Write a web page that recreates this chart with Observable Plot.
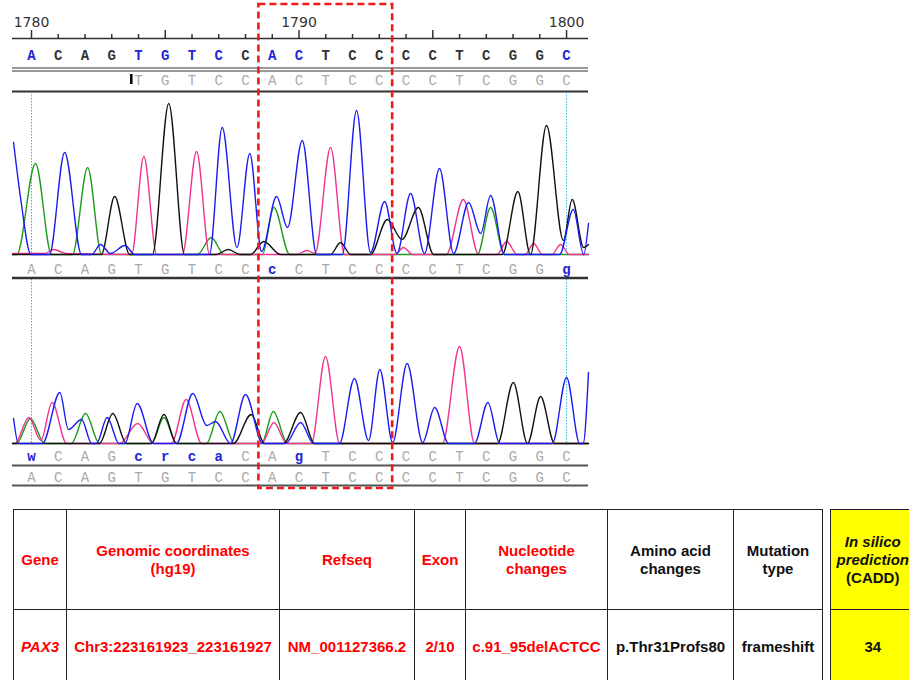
<!DOCTYPE html>
<html><head><meta charset="utf-8">
<script src="https://cdn.jsdelivr.net/npm/d3@7"></script>
<script src="https://cdn.jsdelivr.net/npm/@observablehq/plot@0.6"></script>
<style>
html,body{margin:0;padding:0;background:#fff}
body{width:909px;height:680px;overflow:hidden;font-family:"Liberation Sans",Arial,sans-serif}
#chart svg{display:block}
.wrap{display:flex;align-items:flex-start;margin-top:9px;margin-left:13px}
table{border-collapse:collapse;table-layout:fixed}
td{border:1.5px solid #222;text-align:center;vertical-align:middle;font-weight:bold;font-size:15px;padding:0 2px;line-height:18px;white-space:nowrap}
#cadd{margin-left:7px;background:#ffff00}
#cadd td{border-right:none}
</style></head><body>
<div id="chart"></div>
<div class="wrap"><table id="main"></table><table id="cadd"></table></div>
<script>
// ---------- data ----------
const firstPos = 1780;
const refSeq = "ACAGTGTCCACTCCCCTCGGC";          // reference row (1780-1800)
const refEdited = [0, 4, 5, 6, 7, 9, 10, 20];      // bases shown in blue in the reference row
const read1Start = 1784;
const read1Seq = "TGTCCACTCCCCTCGGC";              // aligned read row
const trace1Calls = "ACAGTGTCCcCTCCCCTCGGg";       // base calls under trace 1
const trace2Calls = "wCAGcrcaCAgTCCCCTCGGC";       // base calls under trace 2
const trace2Ref = "ACAGTGTCCACTCCCCTCGGC";         // reference under trace 2
const rulerTicks = d3.range(1780, 1801);
const rulerLabels = [1780, 1790, 1800];
const markers = [1780, 1800];
const deletion = [{start: 1789, end: 1793}];

// chromatogram traces: [position, signal]
const trace1A = [[1779.29,0],[1779.45,0],[1780.15,91],[1780.75,0],[1781.53,0],[1782.10,87],[1782.62,0],[1786.2,0],[1786.72,17],[1787.2,0],[1788.63,0],[1789.06,47],[1789.65,0],[1796.67,0],[1797.16,47],[1797.68,0],[1800.82,0]];
const trace1C = [[1779.33,112],[1779.6,55],[1779.98,0],[1780.67,0],[1781.24,102],[1781.87,0],[1782.25,0],[1782.58,10],[1782.95,1],[1783.5,9],[1783.85,0],[1786.65,0],[1787.13,127],[1787.68,7],[1788.16,101],[1788.6,3],[1789.16,58],[1789.57,27],[1790.12,114],[1790.66,0],[1791.62,0],[1792.15,144],[1792.67,2],[1793.2,53],[1793.66,1],[1794.17,61],[1794.69,1],[1795.25,86],[1795.78,1],[1796.34,52],[1796.79,21],[1797.16,59],[1797.68,0],[1799.74,0],[1800.25,45],[1800.64,0],[1800.82,31]];
const trace1G = [[1779.29,0],[1782.61,0],[1783.11,58],[1783.67,0],[1784.52,0],[1785.13,151],[1785.72,0],[1786.9,0],[1787.36,5],[1787.8,0],[1788.19,0],[1788.68,13],[1789.31,0],[1791.18,0],[1791.55,12],[1791.93,0],[1792.67,0],[1793.3,35],[1793.85,15],[1794.46,47],[1795.03,0],[1797.6,0],[1798.18,63],[1798.65,0],[1799.25,129],[1799.88,14],[1800.21,55],[1800.64,7],[1800.82,10]];
const trace1T = [[1779.29,1],[1780.5,1],[1780.82,5],[1781.3,1],[1783.74,0],[1784.2,98],[1784.68,0],[1785.64,0],[1786.17,103],[1786.66,0],[1789.9,0],[1790.3,4],[1790.6,1],[1791.18,107],[1791.7,0],[1793.6,0],[1793.9,7],[1794.25,0],[1795.51,0],[1796.14,55],[1796.71,0],[1797.4,0],[1797.76,13],[1798.15,0],[1798.45,0],[1798.77,11],[1799.1,0],[1799.45,0],[1799.78,10],[1800.1,0],[1800.82,0]];

const trace2A = [[1779.29,0],[1779.44,0],[1779.96,25],[1780.49,0],[1781.49,0],[1782.02,30],[1782.54,0],[1784.48,0],[1784.95,26],[1785.42,0],[1786.54,0],[1787.04,32],[1787.59,0],[1788.6,0],[1789.04,32],[1789.57,0],[1800.82,0]];
const trace2C = [[1779.33,25],[1779.51,0],[1780.41,0],[1781.06,51],[1781.38,14],[1781.87,24],[1782.25,0],[1782.43,0],[1782.83,26],[1783.27,0],[1783.49,0],[1783.95,40],[1784.56,0],[1785.42,0],[1786.03,50],[1786.55,18],[1786.88,22],[1787.44,0],[1788.0,49],[1788.64,0],[1789.5,0],[1790.06,21],[1790.54,0],[1791.51,0],[1792.07,65],[1792.6,3],[1793.02,74],[1793.5,1],[1794.04,80],[1794.62,1],[1795.07,36],[1795.59,0],[1796.56,0],[1797.06,41],[1797.5,0],[1799.47,0],[1800.0,66],[1800.49,0],[1800.62,0],[1800.82,71]];
const trace2G = [[1779.29,0],[1782.54,0],[1783.04,30],[1783.55,0],[1784.48,0],[1784.95,29],[1785.42,0],[1787.55,0],[1788.21,29],[1788.71,0],[1789.42,0],[1790.06,31],[1790.58,0],[1797.42,0],[1798.01,61],[1798.54,0],[1799.03,47],[1799.55,0],[1800.82,0]];
const trace2T = [[1779.29,0],[1779.38,0],[1779.9,26],[1780.35,3],[1780.77,41],[1781.31,0],[1783.29,0],[1783.97,20],[1784.56,0],[1785.23,0],[1785.78,44],[1786.36,0],[1788.6,0],[1789.06,21],[1789.54,0],[1790.46,0],[1790.99,87],[1791.52,0],[1795.36,0],[1796.0,97],[1796.56,0],[1800.82,0]];

// table
const headers = [["Gene"], ["Genomic coordinates", "(hg19)"], ["Refseq"], ["Exon"], ["Nucleotide", "changes"], ["Amino acid", "changes"], ["Mutation", "type"]];
const values = ["PAX3", "Chr3:223161923_223161927", "NM_001127366.2", "2/10", "c.91_95delACTCC", "p.Thr31Profs80", "frameshift"];
const caddHeader = ["In silico", "prediction", "(CADD)"];
const caddValue = "34";

// ---------- styles / layout ----------
const COL = {A: "#1d9a1d", C: "#1b1bf0", G: "#111111", T: "#f2338f"};
const BLUE = "#2323d8", DARK = "#333", GRAY = "#a9a9a9";
const L = {label: 22, ruler: 38, row1: 55, row2: 80, sep1: 91, base1: 254, row3: 269, sep2: 277.5, base2: 443, row4: 456, sep3: 465, row5: 477, sep4: 485, boxTop: 4, boxBottom: 488};
const mono = "'Courier New','DejaVu Serif',serif";

const letters = (seq, start) => Array.from(seq, (ch, i) => ({pos: start + i, ch, i}));
const isLower = d => d.ch !== d.ch.toUpperCase();

const refRow = letters(refSeq, firstPos);
const readRow = letters(read1Seq, read1Start);
const t1Row = letters(trace1Calls, firstPos);
const t2Row = letters(trace2Calls, firstPos);
const t2RefRow = letters(trace2Ref, firstPos);

const traceMarks = (tr, base) => [["A", tr.A], ["T", tr.T], ["G", tr.G], ["C", tr.C]].map(([k, arr]) =>
  Plot.line(arr, {x: d => d[0], y: d => base - d[1], stroke: COL[k], strokeWidth: 1.4, curve: "monotone-x"}));

const letterText = (data, y, fill, weight) => Plot.text(data, {x: "pos", y: () => y, text: "ch", fill, fontFamily: mono, fontSize: 14, fontWeight: weight});

const chart = Plot.plot({
  width: 909, height: 500,
  marginLeft: 12, marginRight: 321, marginTop: 0, marginBottom: 0,
  x: {domain: [1779.29, 1800.82], axis: null},
  y: {domain: [0, 500], range: [0, 500], axis: null},
  style: {background: "#fff"},
  marks: [
    // ruler
    Plot.ruleX(rulerTicks, {x: d => d, y1: d => d % 5 === 0 ? L.ruler - 8 : L.ruler - 4, y2: () => L.ruler, stroke: DARK, strokeWidth: 1.5}),
    Plot.text(rulerLabels, {x: d => d, y: () => L.label, text: d => String(d), fontFamily: "DejaVu Sans", fontSize: 14, fill: DARK}),
    Plot.ruleY([L.ruler], {y: d => d, stroke: DARK, strokeWidth: 1.6}),
    // reference row
    letterText(refRow.filter(d => !refEdited.includes(d.i)), L.row1, DARK, "bold"),
    letterText(refRow.filter(d => refEdited.includes(d.i)), L.row1, BLUE, "bold"),
    Plot.ruleY([67.5, 70.5], {y: d => d, stroke: DARK, strokeWidth: 1.2}),
    // read row
    Plot.ruleX([read1Start], {x: d => d - 0.27, y1: () => 74, y2: () => 84, stroke: "#000", strokeWidth: 2.5}),
    letterText(readRow, L.row2, GRAY, "normal"),
    Plot.ruleY([L.sep1], {y: d => d, stroke: DARK, strokeWidth: 2.2}),
    // marker lines
    Plot.ruleX(markers, {x: d => d, y1: () => L.sep1 + 1, y2: () => L.base1, stroke: "#2cb5e8", strokeWidth: 1, strokeDasharray: "1.5,1.5"}),
    Plot.ruleX(markers, {x: d => d, y1: () => L.sep2 + 1.5, y2: () => L.base2, stroke: "#2cb5e8", strokeWidth: 1, strokeDasharray: "1.5,1.5"}),
    // trace 1
    ...traceMarks({A: trace1A, C: trace1C, G: trace1G, T: trace1T}, L.base1),
    letterText(t1Row.filter(d => !isLower(d)), L.row3, GRAY, "normal"),
    letterText(t1Row.filter(isLower), L.row3, BLUE, "bold"),
    Plot.ruleY([L.sep2], {y: d => d, stroke: DARK, strokeWidth: 2.6}),
    // trace 2
    ...traceMarks({A: trace2A, C: trace2C, G: trace2G, T: trace2T}, L.base2),
    letterText(t2Row.filter(d => !isLower(d)), L.row4, GRAY, "normal"),
    letterText(t2Row.filter(isLower), L.row4, BLUE, "bold"),
    Plot.ruleY([L.sep3], {y: d => d, stroke: "#555", strokeWidth: 1.8}),
    letterText(t2RefRow, L.row5, GRAY, "normal"),
    Plot.ruleY([L.sep4], {y: d => d, stroke: "#555", strokeWidth: 1.8}),
    // deletion box
    Plot.rect(deletion, {x1: d => d.start - 0.5, x2: d => d.end + 0.5, y1: () => L.boxTop, y2: () => L.boxBottom, fill: "none", stroke: "#ee1a1a", strokeWidth: 2.6, strokeDasharray: "7,4"})
  ]
});
document.getElementById("chart").appendChild(chart);

// ---------- table ----------
const widths = [53, 213, 135, 51, 142, 126, 89];
const headColors = ["red", "red", "red", "red", "red", "#111", "#111"];
const valColors = ["red", "red", "red", "red", "red", "#111", "#111"];
const main = document.getElementById("main");
main.style.width = d3.sum(widths) + 1 + "px";
const cg = document.createElement("colgroup");
widths.forEach(w => { const c = document.createElement("col"); c.style.width = w + "px"; cg.appendChild(c); });
main.appendChild(cg);
const hr = main.insertRow(); hr.style.height = "100px";
headers.forEach((h, i) => {
  const td = hr.insertCell();
  td.style.color = headColors[i];
  h.forEach((line, j) => { if (j) td.appendChild(document.createElement("br")); td.appendChild(document.createTextNode(line)); });
});
const vr = main.insertRow(); vr.style.height = "75px";
values.forEach((v, i) => {
  const td = vr.insertCell();
  td.style.color = valColors[i];
  if (i === 0) td.style.fontStyle = "italic";
  td.textContent = v;
});
const cadd = document.getElementById("cadd");
cadd.style.width = "84px";
const cc = document.createElement("colgroup"); const c1 = document.createElement("col"); c1.style.width = "84px"; cc.appendChild(c1); cadd.appendChild(cc);
const ch = cadd.insertRow(); ch.style.height = "100px";
const chd = ch.insertCell(); chd.style.color = "#111";
caddHeader.forEach((line, j) => {
  if (j) chd.appendChild(document.createElement("br"));
  const s = document.createElement("span"); s.textContent = line;
  if (j < 2) s.style.fontStyle = "italic";
  chd.appendChild(s);
});
const cv = cadd.insertRow(); cv.style.height = "75px";
const cvd = cv.insertCell(); cvd.style.color = "#111"; cvd.textContent = caddValue;
</script></body></html>
